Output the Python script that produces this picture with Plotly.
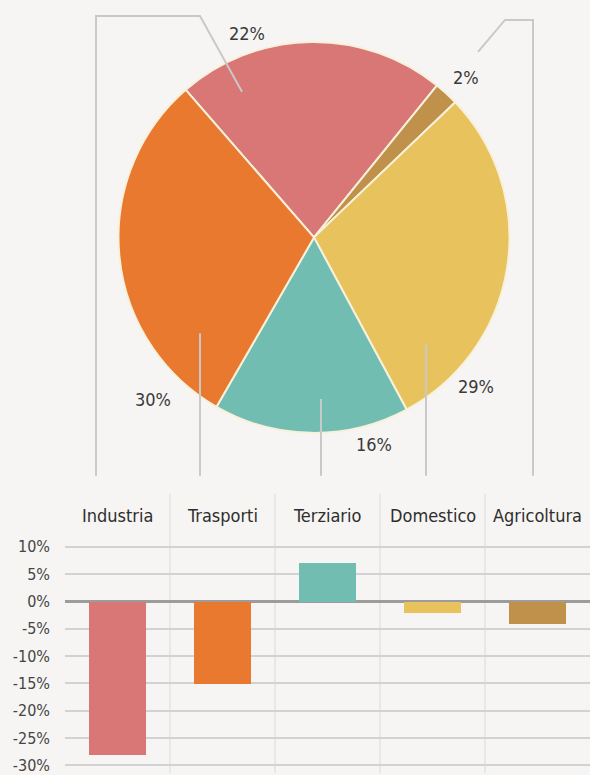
import plotly.graph_objects as go

W, H = 590, 775

# Quote dei consumi per settore (%)
settori = ["Industria", "Trasporti", "Terziario", "Domestico", "Agricoltura"]
# Variazione dei consumi per settore (%)
variazioni = [-28, -15, 7, -2, -4]

# fette in senso orario partendo dall'Industria
settori_torta = ["Industria", "Agricoltura", "Domestico", "Terziario", "Trasporti"]
quote_torta = [22, 2, 29, 16, 30]

colori = {
    "Industria": "#d87775",
    "Trasporti": "#e8792f",
    "Terziario": "#72bdb1",
    "Domestico": "#e8c35d",
    "Agricoltura": "#bf914a",
}
tick_vals = [10, 5, 0, -5, -10, -15, -20, -25, -30]
tick_text = [f"{v}%" for v in tick_vals]

FONT = "DejaVu Sans Condensed, Liberation Sans Narrow, sans-serif"
BG = "#f6f5f3"
LINE = "#c9c9c9"


def px(x):
    return x / W


def py(y):
    return 1 - y / H


fig = go.Figure()

# --- torta ---
cx, cy, r = 314, 238, 196
fig.add_trace(go.Pie(
    labels=settori_torta,
    values=quote_torta,
    sort=False,
    direction="clockwise",
    rotation=-41,
    marker=dict(colors=[colori[l] for l in settori_torta],
                line=dict(color="#f7f1dc", width=2)),
    textinfo="none",
    hoverinfo="label+value",
    showlegend=False,
    domain=dict(x=[px(cx - r), px(cx + r)], y=[py(cy + r), py(cy - r)]),
))

# --- barre ---
fig.add_trace(go.Bar(
    x=settori,
    y=variazioni,
    marker=dict(color=[colori[s] for s in settori], line=dict(width=0)),
    width=0.55,
    showlegend=False,
    xaxis="x",
    yaxis="y",
))

shapes = []
# linee di richiamo dalla torta alle colonne
richiami = [
    [(96, 477), (96, 16), (200, 16), (242, 92)],
    [(200, 477), (200, 334)],
    [(321, 477), (321, 400)],
    [(426, 477), (426, 345)],
    [(533, 477), (533, 20), (505, 20), (478, 52)],
]
for pts in richiami:
    path = "M " + " L ".join(f"{px(x)},{py(y)}" for x, y in pts)
    shapes.append(dict(type="path", xref="paper", yref="paper", path=path,
                       line=dict(color=LINE, width=2), layer="above"))

# separatori verticali tra le colonne
for b in [0.5, 1.5, 2.5, 3.5]:
    shapes.append(dict(type="line", xref="x", yref="y", x0=b, x1=b,
                       y0=-31.4, y1=19.7, line=dict(color="#dadada", width=1),
                       layer="below"))

annotations = []
# etichette percentuali della torta
pos_etichette = {
    "Industria": (247, 34),
    "Agricoltura": (466, 78),
    "Domestico": (476, 387),
    "Terziario": (374, 446),
    "Trasporti": (153, 401),
}
for lab, val in zip(settori_torta, quote_torta):
    x, y = pos_etichette[lab]
    annotations.append(dict(x=px(x), y=py(y), xref="paper", yref="paper",
                            xanchor="center", yanchor="middle",
                            text=f"{val}%", showarrow=False,
                            font=dict(family=FONT, size=18, color="#3a3a3a")))

# intestazioni delle colonne
for s in settori:
    annotations.append(dict(x=s, y=15.8, xref="x", yref="y", text=s,
                            xanchor="center", yanchor="middle",
                            showarrow=False,
                            font=dict(family=FONT, size=18, color="#2e2e2e")))

fig.update_layout(
    width=W, height=H,
    margin=dict(l=0, r=0, t=0, b=0),
    paper_bgcolor=BG, plot_bgcolor=BG,
    bargap=0,
    xaxis=dict(domain=[px(65), 1.0], range=[-0.5, 4.5], showticklabels=False,
               showgrid=False, zeroline=False, showline=False, fixedrange=True),
    yaxis=dict(domain=[0, py(495)], range=[-31.4, 19.7], tickvals=tick_vals,
               ticktext=tick_text, showgrid=True, gridcolor="#d2d2d2",
               gridwidth=1.5, zeroline=True, zerolinecolor="#9c9c9c",
               zerolinewidth=2.5, showline=False, ticks="",
               ticklabelstandoff=14, ticklabeloverflow="allow",
               tickfont=dict(family=FONT, size=16, color="#454545")),
    shapes=shapes,
    annotations=annotations,
)

fig.write_html("out.html")
